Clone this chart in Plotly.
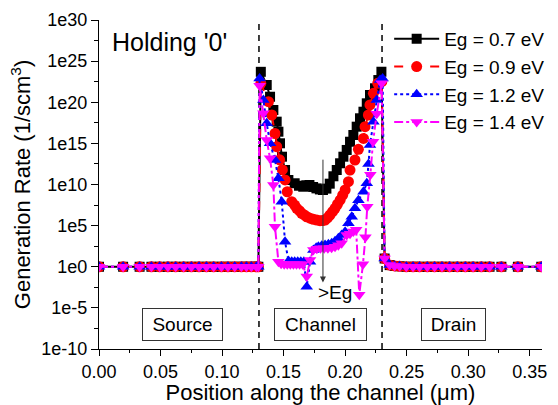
import numpy as np
import plotly.graph_objects as go

# ---------------- data (positions in um, generation rate as log10 exponent) ----------------
source_x = [0.0, 0.0196, 0.033, 0.0426, 0.0493, 0.056, 0.0623, 0.0688, 0.0751, 0.0813,
            0.0873, 0.0932, 0.0995, 0.1048, 0.1103, 0.1157, 0.1198, 0.1238, 0.1279, 0.1295]
source_exp = [0.0] * len(source_x)

drain_x = [0.2321, 0.2362, 0.2402, 0.2443, 0.2497, 0.2552, 0.2605, 0.2668, 0.2727, 0.2787,
           0.2849, 0.2912, 0.2977, 0.304, 0.3107, 0.3174, 0.327, 0.3404, 0.3594]
drain_exp = [1.0, 0.2, 0.1, 0.05, 0.0, 0.0, 0.0, 0.0, 0.0, 0.0,
             0.0, 0.0, 0.0, 0.0, 0.0, 0.0, 0.0, 0.0, 0.0]

ch07_x = [0.1315, 0.1363, 0.139, 0.1417, 0.1444, 0.1458, 0.1471, 0.1487, 0.1512, 0.1539,
          0.159, 0.1625, 0.166, 0.1685, 0.171, 0.174, 0.1767, 0.1795, 0.182, 0.1848,
          0.1875, 0.1905, 0.1932, 0.1959, 0.1986, 0.2013, 0.204, 0.2067, 0.2094, 0.2121,
          0.2149, 0.2176, 0.2202, 0.2243, 0.227, 0.2295]
ch07_exp = [23.7, 22.1, 20.67, 19.06, 17.64, 16.42, 15.01, 13.38, 11.76, 10.55,
            10.15, 9.85, 9.73, 9.9, 9.94, 9.7, 9.53, 9.4, 9.33, 9.5,
            10.1, 11.0, 11.76, 12.58, 13.38, 14.2, 15.2, 16.02, 17.03, 18.05,
            18.85, 19.87, 20.88, 21.7, 22.7, 23.71]

ch09_x = [0.1315, 0.1377, 0.1404, 0.143, 0.1444, 0.1468, 0.149, 0.1512, 0.153, 0.1566,
          0.159, 0.1607, 0.163, 0.1647, 0.1668, 0.1688, 0.1715, 0.1742, 0.177, 0.1796,
          0.1817, 0.1837, 0.1857, 0.1877, 0.1898, 0.1918, 0.1938, 0.1959, 0.198, 0.2,
          0.2027, 0.204, 0.208, 0.2108, 0.2149, 0.2162, 0.2189, 0.2202, 0.223, 0.2265, 0.2298]
ch09_exp = [22.3, 20.07, 18.45, 16.2, 14.6, 13.0, 11.8, 10.55, 9.12, 7.91,
            7.5, 7.1, 6.8, 6.5, 6.3, 6.08, 5.9, 5.77, 5.68, 5.6,
            5.62, 5.68, 5.95, 6.29, 6.7, 7.1, 7.6, 8.1, 8.7, 9.33,
            10.34, 11.76, 12.98, 14.28, 15.6, 17.03, 18.45, 19.67, 21.09, 22.3, 22.5]

ch12_x = [0.1305, 0.1336, 0.1363, 0.139, 0.143, 0.1458, 0.1485, 0.1512, 0.154, 0.1566,
          0.159, 0.1615, 0.164, 0.1665, 0.1688, 0.1715, 0.1742, 0.1765, 0.1783, 0.181,
          0.1837, 0.1864, 0.1891, 0.1918, 0.1945, 0.1972, 0.2, 0.2027, 0.2054, 0.208,
          0.2108, 0.2149, 0.2176, 0.219, 0.2202, 0.223, 0.2257, 0.2284, 0.2305]
ch12_exp = [22.9, 20.27, 17.44, 15.01, 12.98, 10.75, 7.91, 3.05, 0.7, 0.6,
            0.6, 0.6, 0.6, 0.6, -2.43, 0.61, 2.04, 2.3, 2.44, 2.55,
            2.64, 2.75, 2.85, 3.1, 3.46, 3.85, 4.26, 5.28, 6.08, 7.1,
            8.1, 9.12, 10.15, 12.5, 14.8, 17.64, 20.27, 22.7, 22.9]

ch14_x = [0.1305, 0.1336, 0.1363, 0.139, 0.1417, 0.143, 0.1458, 0.148, 0.1505, 0.153,
          0.1555, 0.158, 0.1605, 0.163, 0.1655, 0.1688, 0.1715, 0.1742, 0.177, 0.18,
          0.183, 0.186, 0.189, 0.1918, 0.1945, 0.1972, 0.2013, 0.204, 0.2067, 0.209,
          0.2115, 0.2145, 0.2165, 0.218, 0.2205, 0.2227, 0.2257, 0.2297]
ch14_exp = [22.0, 18.65, 15.4, 13.18, 9.94, 4.87, 0.61, 0.35, 0.3, 0.3,
            0.3, 0.3, 0.3, 0.3, 0.3, -1.2, 0.82, 2.04, 2.2, 2.24,
            2.24, 2.24, 2.3, 2.44, 2.6, 2.85, 3.86, 4.0, 4.3, 4.5,
            -3.4, 0.3, 3.6, 7.3, 11.2, 15.2, 18.6, 22.3]

series_names = ["Eg = 0.7 eV", "Eg = 0.9 eV", "Eg = 1.2 eV", "Eg = 1.4 eV"]
series_x = [ch07_x, ch09_x, ch12_x, ch14_x]
series_exp = [ch07_exp, ch09_exp, ch12_exp, ch14_exp]

y_tick_exp = [-10, -5, 0, 5, 10, 15, 20, 25, 30]
y_tick_text = ["1e-10", "1e-5", "1e0", "1e5", "1e10", "1e15", "1e20", "1e25", "1e30"]
region_labels = ["Source", "Channel", "Drain"]
region_centers = [0.068, 0.18, 0.288]
region_widths = [81, 93, 65]
boundaries = [0.13, 0.23]

# ---------------- styling ----------------
colors = ["#000000", "#FF0000", "#0000FF", "#FF00FF"]
dashes = ["solid", "dash", "dot", "dashdot"]
symbols = ["square", "circle", "triangle-up", "triangle-down"]
msizes = [10, 11, 11, 11]
FONT = "Liberation Sans, Arial, sans-serif"

fig = go.Figure()
for name, cx, ce, col, ds, sym, ms in zip(series_names, series_x, series_exp,
                                          colors, dashes, symbols, msizes):
    xs = list(source_x) + list(cx) + list(drain_x)
    es = list(source_exp) + list(ce) + list(drain_exp)
    ys = [10.0 ** e for e in es]
    fig.add_trace(go.Scatter(
        x=xs, y=ys, name=name, mode="lines+markers",
        line=dict(color=col, dash=ds, width=2),
        marker=dict(symbol=sym, size=ms, color=col, line=dict(width=0)),
    ))

for b in boundaries:
    fig.add_shape(type="line", xref="x", yref="paper", x0=b, x1=b, y0=0, y1=1,
                  line=dict(color="black", width=1.5, dash="6px,5px"), layer="below")

for lab, cx, w in zip(region_labels, region_centers, region_widths):
    fig.add_annotation(x=cx, y=-7, xref="x", yref="y", text=lab, showarrow=False,
                       font=dict(family=FONT, size=19, color="black"),
                       bordercolor="#333333", borderwidth=1, borderpad=1,
                       width=w - 4, height=29, bgcolor="rgba(255,255,255,0)")

fig.add_annotation(x=0.024, y=0.933, xref="paper", yref="paper", text="Holding '0'",
                   showarrow=False, xanchor="left", yanchor="middle",
                   font=dict(family=FONT, size=25, color="black"))

# arrow for increasing Eg
fig.add_annotation(x=0.182, y=-1.9, xref="x", yref="y", ax=0.182, ay=13.2,
                   axref="x", ayref="y", text="", showarrow=True,
                   arrowhead=2, arrowsize=1.2, arrowwidth=1, arrowcolor="#333333")
fig.add_annotation(x=0.1917, y=-3.1, xref="x", yref="y", text=">Eg", showarrow=False,
                   font=dict(family=FONT, size=19, color="black"))

fig.update_layout(
    width=558, height=405,
    margin=dict(l=99, r=16, t=20, b=56, autoexpand=False),
    paper_bgcolor="white", plot_bgcolor="white",
    font=dict(family=FONT, color="black"),
    showlegend=True,
    legend=dict(x=0.655, y=1.0, xanchor="left", yanchor="top",
                font=dict(family=FONT, size=19, color="black"),
                bgcolor="rgba(255,255,255,0)", itemwidth=45,
                tracegroupgap=0),
    xaxis=dict(
        range=[0, 0.36], dtick=0.05, tickformat=".2f", automargin=False,
        showline=True, linecolor="black", linewidth=1.3, mirror=False,
        ticks="outside", ticklen=6, tickwidth=1.3, tickcolor="black",
        minor=dict(dtick=0.025, ticks="outside", ticklen=3, tickwidth=1.3, tickcolor="black"),
        showgrid=False, zeroline=False,
        tickfont=dict(family=FONT, size=18, color="black"),
        title=dict(text="Position along the channel (\u03bcm)",
                   font=dict(family=FONT, size=22, color="black"), standoff=4),
    ),
    yaxis=dict(
        type="log", range=[-10, 30], automargin=False,
        tickvals=[10.0 ** e for e in y_tick_exp], ticktext=y_tick_text,
        showline=True, linecolor="black", linewidth=1.3, mirror=False,
        ticks="outside", ticklen=7, tickwidth=1.3, tickcolor="black",
        minor=dict(tickvals=[10.0 ** (e + 2.5) for e in y_tick_exp[:-1]],
                   ticks="outside", ticklen=4, tickwidth=1.3, tickcolor="black"),
        showgrid=False, zeroline=False,
        tickfont=dict(family=FONT, size=18, color="black"),
        title=dict(text="Generation Rate (1/scm<sup>3</sup>)",
                   font=dict(family=FONT, size=22, color="black"), standoff=4),
    ),
)

fig.write_html("out.html", config={"displayModeBar": False},
               post_script="document.body.style.margin='0';document.body.style.overflow='hidden';")
